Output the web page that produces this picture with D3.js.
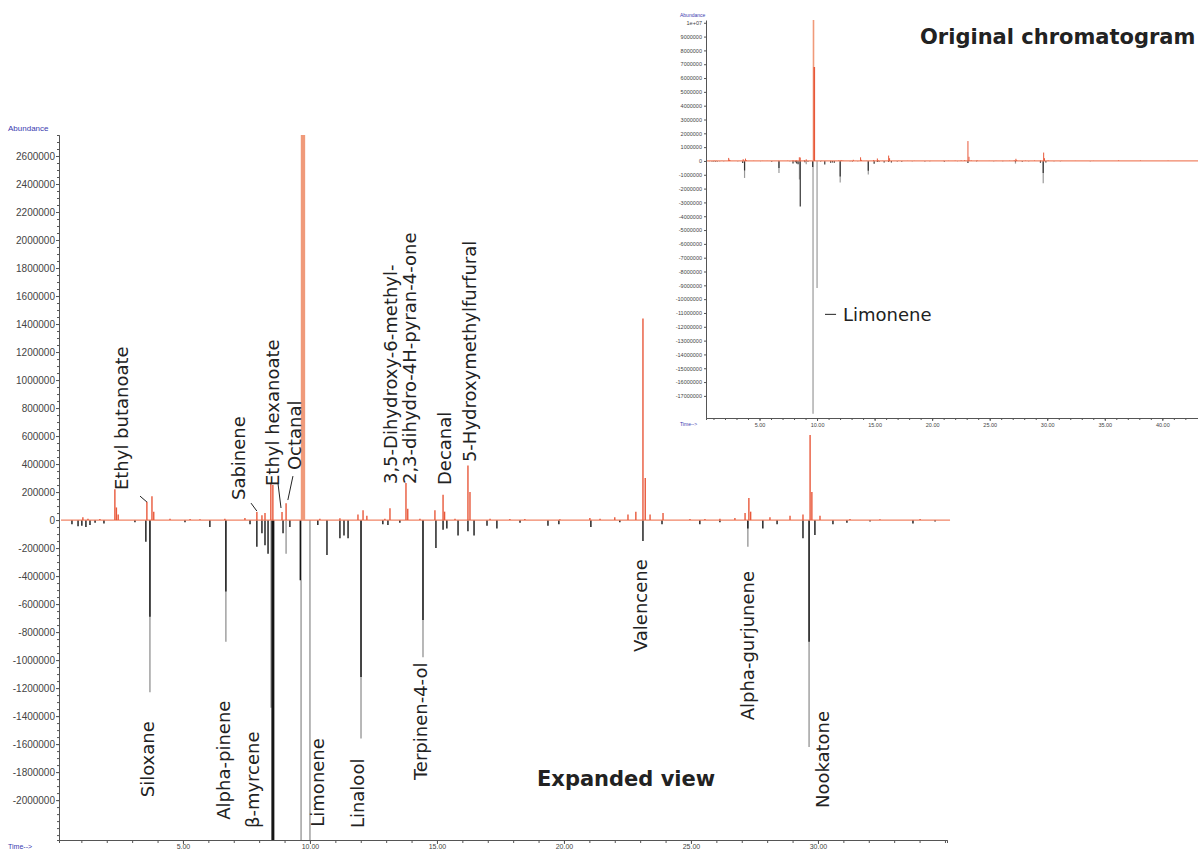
<!DOCTYPE html>
<html>
<head>
<meta charset="utf-8">
<script src="https://cdn.jsdelivr.net/npm/d3@7"></script>
<style>
  body { margin: 0; background: #fff; }
  svg { display: block; }
</style>
</head>
<body>
<div class="chart"></div>
<script>
// peaks: [retention time (min), abundance]
var redPeaks = [
  [1.06, 20000], [1.26, 10000], [1.73, 8000], [2.32, 220000], [2.38, 90000], [2.45, 40000],
  [3.58, 130000], [3.78, 170000], [3.85, 60000], [4.49, 10000], [5.28, 8000], [5.67, 6000],
  [6.65, 10000], [7.44, 15000], [7.91, 57000], [8.11, 35000], [8.23, 50000], [8.46, 264000],
  [8.54, 250000], [8.90, 57000], [9.06, 120000], [9.69, 10200000], [9.76, 6800000], [10.39, 10000],
  [11.18, 12000], [11.89, 40000], [12.09, 70000], [12.24, 30000], [12.95, 10000], [13.15, 85000],
  [13.78, 264000], [13.85, 80000], [14.33, 10000], [14.92, 70000], [15.24, 180000], [15.30, 60000],
  [15.71, 10000], [16.22, 390000], [16.30, 200000], [17.09, 10000], [17.87, 8000], [18.46, 8000],
  [19.84, 6000], [21.02, 15000], [21.42, 10000], [22.00, 20000], [22.52, 40000], [22.83, 60000],
  [23.11, 1440000], [23.20, 300000], [23.39, 40000], [23.90, 50000], [24.96, 8000], [25.55, 8000],
  [26.14, 10000], [26.73, 15000], [27.13, 50000], [27.28, 157000], [27.35, 60000], [28.11, 20000],
  [28.90, 30000], [29.41, 40000], [29.69, 607000], [29.76, 200000], [30.08, 30000], [31.26, 8000],
  [32.44, 6000], [34.02, 8000], [36.2, 40000], [38.1, 30000], [40.5, 20000]
];
var blackPeaks = [
  [0.63, -30000], [0.87, -45000], [1.02, -40000], [1.18, -50000], [1.34, -35000], [1.54, -20000],
  [1.89, -25000], [3.11, -15000], [3.54, -155000], [3.70, -690000], [5.08, -15000], [6.06, -50000],
  [6.69, -510000], [7.64, -30000], [7.91, -190000], [8.11, -95000], [8.23, -180000], [8.35, -240000],
  [8.54, -3300000], [8.94, -95000], [9.21, -50000], [9.62, -430000], [10.31, -35000], [10.67, -250000],
  [11.18, -130000], [11.34, -110000], [11.50, -130000], [12.01, -1120000], [12.87, -30000], [13.07, -35000],
  [13.54, -20000], [14.45, -714000], [14.96, -200000], [15.24, -70000], [15.39, -60000], [15.83, -110000],
  [16.22, -80000], [16.46, -110000], [16.97, -40000], [17.36, -60000], [18.27, -20000], [19.37, -40000],
  [19.80, -30000], [21.06, -50000], [22.20, -15000], [23.11, -150000], [23.86, -30000], [25.35, -30000],
  [26.14, -15000], [27.24, -60000], [27.83, -60000], [28.39, -30000], [29.41, -130000], [29.65, -870000],
  [29.88, -107000], [30.59, -30000], [31.14, -20000], [32.05, -10000], [33.74, -25000], [34.61, -10000]
];
var grayPeaks = [
  [3.70, -1230000], [6.69, -870000], [8.47, -1340000], [9.06, -240000], [9.65, -18300000],
  [10.00, -9200000], [12.01, -1560000], [14.45, -980000], [27.24, -190000], [29.65, -1620000]
];

var mainAbundanceTicks = [2600000, 2400000, 2200000, 2000000, 1800000, 1600000, 1400000, 1200000,
  1000000, 800000, 600000, 400000, 200000, 0, -200000, -400000, -600000, -800000, -1000000,
  -1200000, -1400000, -1600000, -1800000, -2000000];
var insetAbundanceTicks = [10000000, 9000000, 8000000, 7000000, 6000000, 5000000, 4000000, 3000000,
  2000000, 1000000, 0, -1000000, -2000000, -3000000, -4000000, -5000000, -6000000, -7000000,
  -8000000, -9000000, -10000000, -11000000, -12000000, -13000000, -14000000, -15000000,
  -16000000, -17000000];
var mainTimeTicks = [5, 10, 15, 20, 25, 30];
var insetTimeTicks = [5, 10, 15, 20, 25, 30, 35, 40];

var compoundNames = ["Ethyl butanoate", "Sabinene", "Ethyl hexanoate", "Octanal",
  "3,5-Dihydroxy-6-methyl-", "2,3-dihydro-4H-pyran-4-one", "Decanal", "5-Hydroxymethylfurfural",
  "Siloxane", "Alpha-pinene", "β-myrcene", "Limonene", "Linalool", "Terpinen-4-ol",
  "Valencene", "Alpha-gurjunene", "Nookatone"];

var W = 1198, H = 851;
var svg = d3.select(".chart").append("svg")
  .attr("width", W).attr("height", H)
  .style("font-family", "'DejaVu Sans', Verdana, sans-serif");

var RED = "#e8583a", BASE = "#f08466", BLACK = "#151515", GRAY = "#9a9a9a";

function drawPeaks(g, data, x, y, color, widthFn) {
  return g.selectAll(null)
    .data(data)
    .enter()
    .append("line")
    .attr("x1", function (d) { return x(d[0]); })
    .attr("x2", function (d) { return x(d[0]); })
    .attr("y1", y(0))
    .attr("y2", function (d) { return y(d[1]); })
    .attr("stroke", color)
    .attr("stroke-width", widthFn);
}

function styleAxis(g, fontSize, font) {
  g.select(".domain").attr("stroke", "#555");
  g.selectAll(".tick line").attr("stroke", "#555");
  g.selectAll(".tick text").attr("fill", "#444")
    .style("font-family", font).style("font-size", fontSize + "px");
}

// ---------- expanded view ----------
var x = d3.scaleLinear().domain([0.12, 35.08]).range([59, 947]);
var y = d3.scaleLinear().domain([-2285000, 2750000]).range([840, 135]);

svg.append("clipPath").attr("id", "mainClip")
  .append("rect").attr("x", 59).attr("y", 135).attr("width", 895).attr("height", 705);

var plot = svg.append("g").attr("clip-path", "url(#mainClip)");
drawPeaks(plot, grayPeaks, x, y, GRAY, 1.4);
drawPeaks(plot, blackPeaks, x, y, BLACK, function (d) { return d[1] < -2000000 ? 3 : 1.4; });
plot.append("line")
  .attr("x1", x(0.2)).attr("x2", x(35.2))
  .attr("y1", y(0)).attr("y2", y(0))
  .attr("stroke", BASE).attr("stroke-width", 1.2);
drawPeaks(plot, redPeaks, x, y, RED, function (d) { return d[1] > 2000000 ? 2.6 : 1.4; })
  .filter(function (d) { return d[1] > 2000000; })
  .attr("stroke", "#f09a7a");

// minor ticks
svg.append("g").attr("transform", "translate(59,0)")
  .call(d3.axisLeft(y).tickValues(d3.range(-2250000, 2750001, 50000)).tickSize(2).tickFormat(""))
  .call(function (g) { styleAxis(g, 10, "Liberation Sans"); });
svg.append("g").attr("transform", "translate(0,840)")
  .call(d3.axisBottom(x).tickValues(d3.range(1, 36, 1)).tickSize(3).tickFormat(""))
  .call(function (g) { styleAxis(g, 7, "Liberation Sans"); });

// major ticks
svg.append("g").attr("transform", "translate(59,0)")
  .call(d3.axisLeft(y).tickValues(mainAbundanceTicks).tickSize(3).tickSizeOuter(0).tickPadding(1)
    .tickFormat(function (d) { return String(d); }))
  .call(function (g) { styleAxis(g, 10, "Liberation Sans"); });
svg.append("g").attr("transform", "translate(0,840)")
  .call(d3.axisBottom(x).tickValues(mainTimeTicks).tickSize(4).tickSizeOuter(0).tickPadding(0)
    .tickFormat(d3.format(".2f")))
  .call(function (g) { styleAxis(g, 7, "Liberation Sans"); });

svg.append("text").attr("x", 8).attr("y", 131).text("Abundance")
  .attr("fill", "#3b3bb0").style("font-size", "8px").style("font-family", "Liberation Sans");
svg.append("text").attr("x", 8).attr("y", 849).text("Time-->")
  .attr("fill", "#3b3bb0").style("font-size", "7px").style("font-family", "Liberation Sans");

// compound labels: [time, abundance] where each rotated label starts
var labelAnchors = [[2.83, 214000], [7.44, 143000], [8.78, 243000], [9.65, 357000],
  [13.43, 257000], [14.17, 257000], [15.55, 250000], [16.54, 414000],
  [3.86, -1980000], [6.85, -2140000], [7.99, -2200000], [10.55, -2190000], [12.13, -2200000],
  [14.61, -1857000], [23.27, -943000], [27.48, -1430000], [30.43, -2057000]];

svg.append("g").selectAll("text")
  .data(compoundNames)
  .enter()
  .append("text")
  .attr("transform", function (d, i) {
    return "translate(" + x(labelAnchors[i][0]) + "," + y(labelAnchors[i][1]) + ") rotate(-90)";
  })
  .attr("fill", "#222")
  .style("font-size", "18px")
  .text(function (d) { return d; });

var leaders = [[[3.31, 171000], [3.58, 129000]], [[7.68, 121000], [7.91, 64000]],
  [[8.74, 264000], [8.86, 86000]], [[9.33, 314000], [9.13, 143000]]];
svg.append("g").selectAll("line")
  .data(leaders)
  .enter()
  .append("line")
  .attr("x1", function (d) { return x(d[0][0]); })
  .attr("y1", function (d) { return y(d[0][1]); })
  .attr("x2", function (d) { return x(d[1][0]); })
  .attr("y2", function (d) { return y(d[1][1]); })
  .attr("stroke", "#222").attr("stroke-width", 1);

svg.append("text").attr("x", 537).attr("y", 786).text("Expanded view")
  .attr("fill", "#222").style("font-size", "21px").style("font-weight", "bold");

// ---------- original chromatogram (inset) ----------
var xi = d3.scaleLinear().domain([0.35, 43.1]).range([706, 1198]);
var yi = d3.scaleLinear().domain([-18600000, 10200000]).range([418, 20]);

var inset = svg.append("g");
inset.append("clipPath").attr("id", "insetClip")
  .append("rect").attr("x", 706).attr("y", 20).attr("width", 492).attr("height", 398);
var iplot = inset.append("g").attr("clip-path", "url(#insetClip)");
drawPeaks(iplot, grayPeaks, xi, yi, GRAY, 1.2);
drawPeaks(iplot, blackPeaks, xi, yi, "#333", 1.2);
iplot.append("line")
  .attr("x1", xi(0.35)).attr("x2", xi(43.1))
  .attr("y1", yi(0)).attr("y2", yi(0))
  .attr("stroke", BASE).attr("stroke-width", 1.2);
drawPeaks(iplot, redPeaks, xi, yi, RED, function (d) { return d[1] > 2000000 ? 1.6 : 1; })
  .filter(function (d) { return d[1] > 8000000; })
  .attr("stroke", "#f09a7a");

inset.append("g").attr("transform", "translate(706,0)")
  .call(d3.axisLeft(yi).tickValues(insetAbundanceTicks).tickSize(2).tickSizeOuter(0).tickPadding(2)
    .tickFormat(function (d) { return d === 10000000 ? "1e+07" : String(d); }))
  .call(function (g) { styleAxis(g, 5.5, "Liberation Sans"); });
inset.append("g").attr("transform", "translate(0,418)")
  .call(d3.axisBottom(xi).tickValues(d3.range(1, 43, 1)).tickSize(2).tickFormat(""))
  .call(function (g) { styleAxis(g, 5.5, "Liberation Sans"); });
inset.append("g").attr("transform", "translate(0,418)")
  .call(d3.axisBottom(xi).tickValues(insetTimeTicks).tickSize(3).tickSizeOuter(0).tickPadding(2)
    .tickFormat(d3.format(".2f")))
  .call(function (g) { styleAxis(g, 5.5, "Liberation Sans"); });

inset.append("text").attr("x", 680).attr("y", 17).text("Abundance")
  .attr("fill", "#3b3bb0").style("font-size", "5px").style("font-family", "Liberation Sans");
inset.append("text").attr("x", 680).attr("y", 426).text("Time-->")
  .attr("fill", "#3b3bb0").style("font-size", "5px").style("font-family", "Liberation Sans");

inset.append("line")
  .attr("x1", xi(10.69)).attr("x2", xi(11.65))
  .attr("y1", yi(-11100000)).attr("y2", yi(-11100000))
  .attr("stroke", "#222").attr("stroke-width", 1);
inset.append("text")
  .attr("x", xi(12.25)).attr("y", yi(-11100000))
  .attr("dy", "0.35em")
  .attr("fill", "#222").style("font-size", "18px")
  .text(compoundNames[11]);

svg.append("text").attr("x", 920).attr("y", 44).text("Original chromatogram")
  .attr("fill", "#222").style("font-size", "21px").style("font-weight", "bold");
</script>
</body>
</html>
